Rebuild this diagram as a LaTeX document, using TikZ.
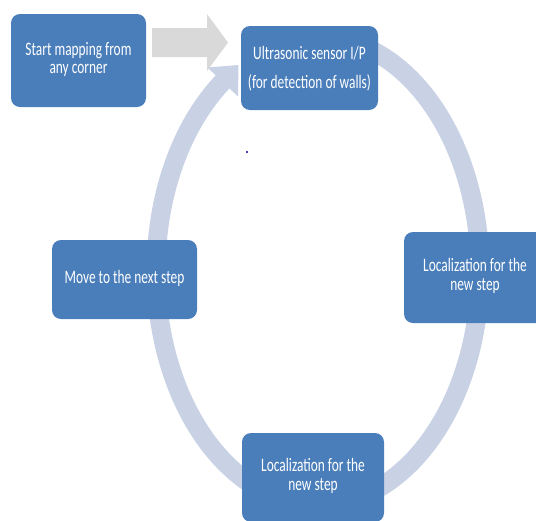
\documentclass[tikz,border=0pt]{standalone}
\usepackage{fontspec}
\setmainfont{Carlito}
\usepackage{graphicx}
\definecolor{boxblue}{HTML}{4A7EBB}
\definecolor{ringc}{HTML}{C9D2E5}
\definecolor{arrgray}{HTML}{D9D9D9}
\newcommand{\boxtext}[2][12.5pt]{\scalebox{1}[1.42]{\fontsize{13.4pt}{#1}\selectfont\begin{tabular}{@{}c@{}}#2\end{tabular}}}
\tikzset{
  stepbox/.style={rectangle, rounded corners=9pt, fill=boxblue, draw=none, text=white, inner sep=0pt, align=center},
  ringline/.style={draw=ringc, line width=19pt},
}
\begin{document}
\begin{tikzpicture}[x=1pt,y=-1pt]
\useasboundingbox (0,0) rectangle (536,520);
\clip (0,0) rectangle (536,520);
% gray entry arrow
\fill[arrgray] (152,28) -- (207,28) -- (207,14) -- (228,42.5) -- (207,71) -- (207,57) -- (152,57) -- cycle;
% cycle ring
\draw[ringline] plot[domain=75:-234, samples=200, smooth] ({318+162*cos(\x)},{271-234*sin(\x)});
\coordinate (tip) at (238.5,65);
\coordinate (barbA) at (207.5,67.5);
\coordinate (barbB) at (238,96.5);
\fill[ringc] (barbA) -- (tip) -- (barbB) -- cycle;
% boxes
\node[stepbox, minimum width=135pt, minimum height=93pt] (start) at (78.5,60.5) {\boxtext{Start mapping  from\\any corner}};
\node[stepbox, minimum width=137pt, minimum height=84pt] (sensor) at (309.5,68) {\boxtext[20.4pt]{Ultrasonic sensor I/P\\(for detection  of walls)}};
\node[stepbox, minimum width=142pt, minimum height=91pt] (locA) at (475,277.5) {\boxtext[13.4pt]{Localization for the\\new step}};
\node[stepbox, minimum width=142pt, minimum height=89pt] (locB) at (313,477.5) {\boxtext[13.4pt]{Localization for the\\new step}};
\node[stepbox, minimum width=145pt, minimum height=79pt] (move) at (124.5,279.5) {\boxtext{Move to the next step}};
\fill[blue!60!black] (247,152) circle (1.1);
\end{tikzpicture}
\end{document}
